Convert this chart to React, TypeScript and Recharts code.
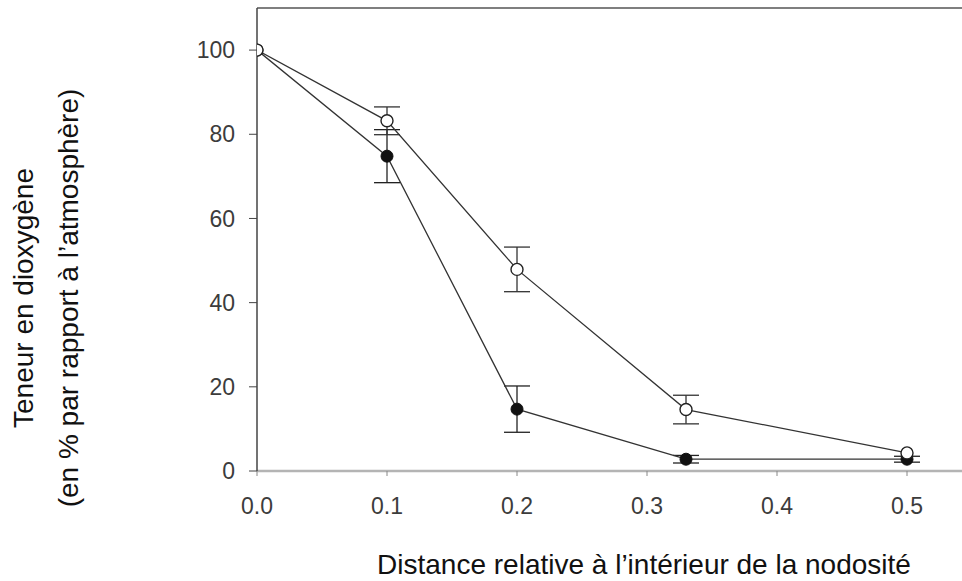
import { LineChart, Line, XAxis, YAxis, ErrorBar, ReferenceLine } from 'recharts';

const distances = [0, 0.1, 0.2, 0.33, 0.5];
const openValues = [100, 83.2, 47.9, 14.6, 4.3];
const openErrors = [null, 3.3, 5.3, 3.4, null];
const filledValues = [100, 74.8, 14.7, 2.8, 2.8];
const filledErrors = [null, 6.3, 5.5, 0.9, 0.7];
const xTicks = [0, 0.1, 0.2, 0.3, 0.4, 0.5];
const yTicks = [0, 20, 40, 60, 80, 100];

const font = "'Liberation Sans', Arial, Helvetica, sans-serif";

const data = distances.map((d, i) => ({
  d,
  open: openValues[i],
  openErr: openErrors[i],
  filled: filledValues[i],
  filledErr: filledErrors[i],
}));

function YTitle() {
  return (
    <g fontFamily={font} fontSize={28} fill="#111">
      <text x={33} y={298} textAnchor="middle" transform="rotate(-90 33 298)">
        Teneur en dioxygène
      </text>
      <text x={78} y={298} textAnchor="middle" transform="rotate(-90 78 298)">
        (en % par rapport à l’atmosphère)
      </text>
    </g>
  );
}

function XTitle() {
  return (
    <text x={644} y={574} textAnchor="middle" fontFamily={font} fontSize={28} fill="#111">
      Distance relative à l’intérieur de la nodosité
    </text>
  );
}

export default function App() {
  return (
    <div style={{ position: 'absolute', left: 0, top: 0, background: '#fff' }}>
      <LineChart
        width={962}
        height={581}
        data={data}
        margin={{ top: 8, right: 0, bottom: 0, left: 0 }}
      >
        <XAxis
          dataKey="d"
          type="number"
          domain={[0, 0.5423]}
          ticks={xTicks}
          allowDataOverflow
          tickFormatter={(v: number) => v.toFixed(1)}
          height={110}
          tickSize={5}
          tickMargin={22}
          axisLine={{ stroke: '#b4b4b4', strokeWidth: 2.5 }}
          tickLine={{ stroke: '#888' }}
          tick={{ fill: '#3c3c3c', fontSize: 23, fontFamily: font }}
          label={{ content: () => <XTitle /> }}
        />
        <YAxis
          type="number"
          domain={[0, 110]}
          ticks={yTicks}
          allowDataOverflow
          width={257}
          tickSize={8}
          tickMargin={14}
          axisLine={{ stroke: '#444', strokeWidth: 1.5 }}
          tickLine={{ stroke: '#444' }}
          tick={{ fill: '#3c3c3c', fontSize: 23, fontFamily: font }}
          label={{ content: () => <YTitle /> }}
        />
        <ReferenceLine y={110} stroke="#555" strokeWidth={1.5} />
        <Line
          dataKey="filled"
          stroke="#333"
          strokeWidth={1.3}
          dot={{ r: 6, fill: '#111', stroke: '#111', strokeWidth: 1 }}
          activeDot={false}
          isAnimationActive={false}
        >
          <ErrorBar dataKey="filledErr" width={13} stroke="#222" strokeWidth={1.3} direction="y" />
        </Line>
        <Line
          dataKey="open"
          stroke="#333"
          strokeWidth={1.3}
          dot={{ r: 6, fill: '#fff', stroke: '#222', strokeWidth: 1.4 }}
          activeDot={false}
          isAnimationActive={false}
        >
          <ErrorBar dataKey="openErr" width={13} stroke="#333" strokeWidth={1.3} direction="y" />
        </Line>
      </LineChart>
    </div>
  );
}
